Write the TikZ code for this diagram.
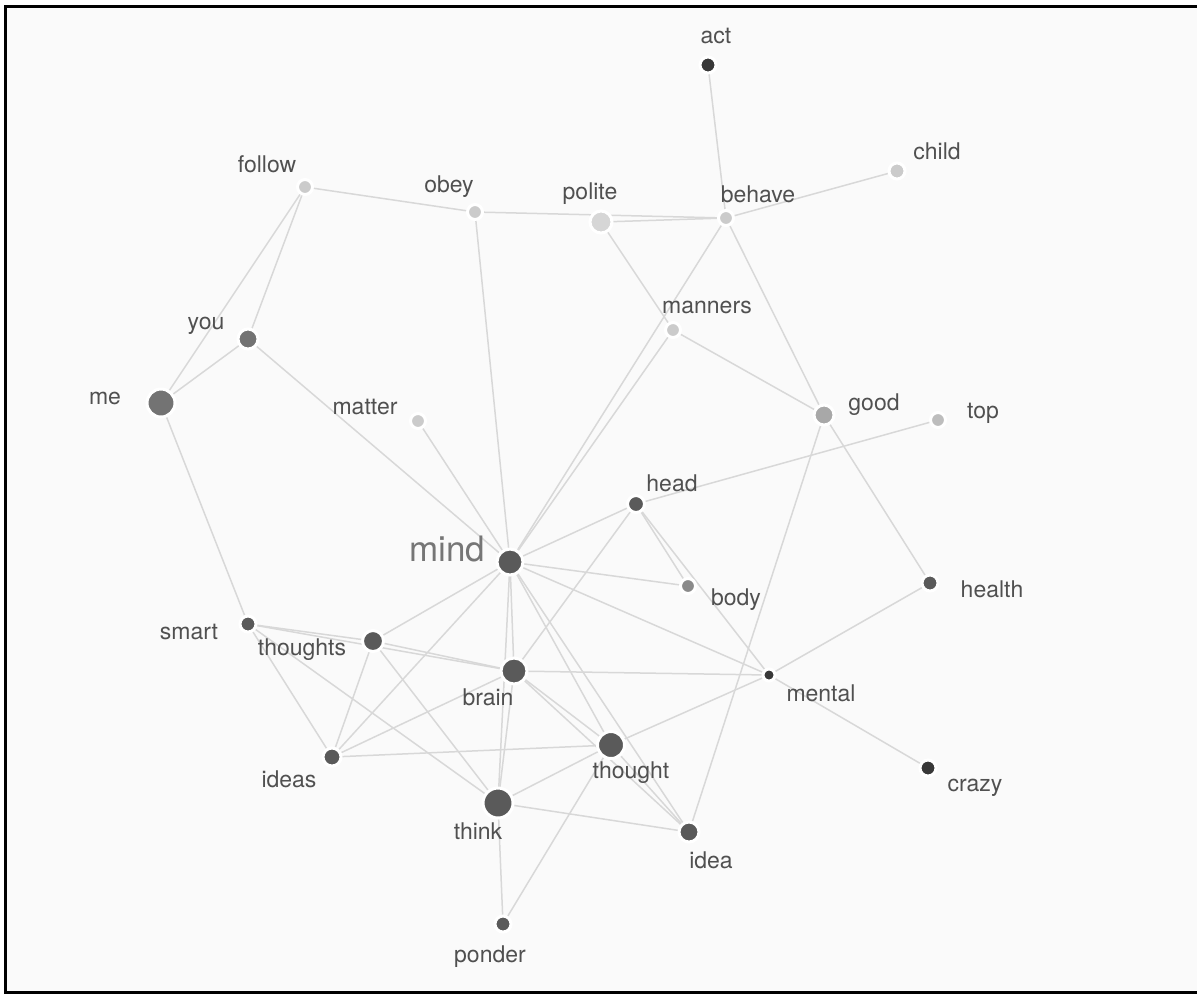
\documentclass[tikz,border=0pt]{standalone}
\usepackage{fontspec}
\setsansfont{TeX Gyre Heros}
\usetikzlibrary{backgrounds}
\definecolor{cbg}{HTML}{FAFAFA}
\definecolor{cedge}{HTML}{D8D8D8}
\definecolor{ctext}{HTML}{505050}
\definecolor{cbig}{HTML}{767676}
\definecolor{cdark}{HTML}{5A5A5A}
\definecolor{cvdark}{HTML}{383838}
\definecolor{cmid}{HTML}{737373}
\definecolor{cbody}{HTML}{8A8A8A}
\definecolor{cgood}{HTML}{A8A8A8}
\definecolor{ctop}{HTML}{BDBDBD}
\definecolor{clight}{HTML}{CBCBCB}
\definecolor{cpale}{HTML}{D6D6D6}
\tikzset{
  every picture/.style={font=\sffamily},
  dot/.style={circle, fill=#1, draw=white, line width=1.5pt, inner sep=0pt},
  word/.style={text=ctext, font=\sffamily\fontsize{11.5}{12}\selectfont, inner sep=0pt},
  bigword/.style={text=cbig, font=\sffamily\fontsize{17.5}{18}\selectfont, inner sep=0pt},
  link/.style={draw=cedge, line width=0.75pt},
  frame/.style={draw=black, line width=1.5pt},
}

\begin{document}
\begin{tikzpicture}[x=0.5pt, y=-0.5pt]
  \useasboundingbox (0,0) rectangle (1197,993);
  % words: name/x/y/diameter/colour/label x/label y
  \foreach \n/\x/\y/\r/\c/\lx/\ly in {act/708/65/13/cvdark/716/36, child/897/171/13/clight/937/151,
      follow/305/187/12/clight/267/164, obey/475/212/12/clight/449/187,
      polite/601/222/19/cpale/590/194, behave/726/218/12/clight/758/194,
      you/248/339/17/cmid/206/326, me/161/403/25/cmid/105/398,
      manners/673/330/12/clight/707/307, matter/418/421/12/clight/365/407,
      good/824/415/17/cgood/874/405, top/938/420/12/ctop/983/413,
      head/636/504/14/cdark/672/483, body/688/586/12/cbody/736/600,
      health/930/583/13/cdark/992/589, smart/248/624/13/cdark/189/632,
      thoughts/373/641/18/cdark/302/650, brain/514/671/23/cdark/488/697,
      mental/769/675/9/cvdark/821/693, ideas/332/757/15/cdark/289/779,
      thought/611/745/24/cdark/631/773, crazy/928/768/13/cvdark/975/788,
      think/498/803/27/cdark/478/831, idea/689/832/17/cdark/711/860,
      ponder/503/924/13/cdark/490/957} {
    \node[dot=\c, minimum size={(\r+3)*0.5pt}] (\n) at (\x,\y) {};
    \node[word] (\n-w) at (\lx,\ly) {\n};
  }
  \node[dot=cdark, minimum size=13pt] (mind) at (510,562) {};
  \node[bigword] (mind-w) at (447,549) {mind};

  \begin{pgfonlayer}{background}
    \fill[cbg] (5,6) rectangle (1197,992);
    \foreach \a/\b in {act/behave, behave/child, follow/obey, obey/behave, polite/behave,
        polite/manners, behave/mind, manners/mind, follow/you, follow/me, you/me, you/mind,
        me/smart, obey/mind, matter/mind, manners/good, behave/good, good/idea, good/health,
        top/head, head/mind, head/body, head/mental, head/brain, mind/body, mind/mental,
        mind/brain, mind/think, mind/thoughts, mind/ideas, mind/thought, mind/idea,
        smart/thoughts, smart/ideas, smart/think, smart/brain, thoughts/brain, thoughts/ideas,
        thoughts/think, ideas/brain, ideas/thought, brain/mental, brain/think, brain/thought,
        brain/idea, thought/mental, health/mental, mental/crazy, think/thought, think/idea,
        think/ponder, thought/ponder, thought/idea}
      \draw[link] (\a.center) -- (\b.center);
  \end{pgfonlayer}

  \draw[frame] (1197,6) -- (5,6) -- (5,992) -- (1197,992);
\end{tikzpicture}
\end{document}
